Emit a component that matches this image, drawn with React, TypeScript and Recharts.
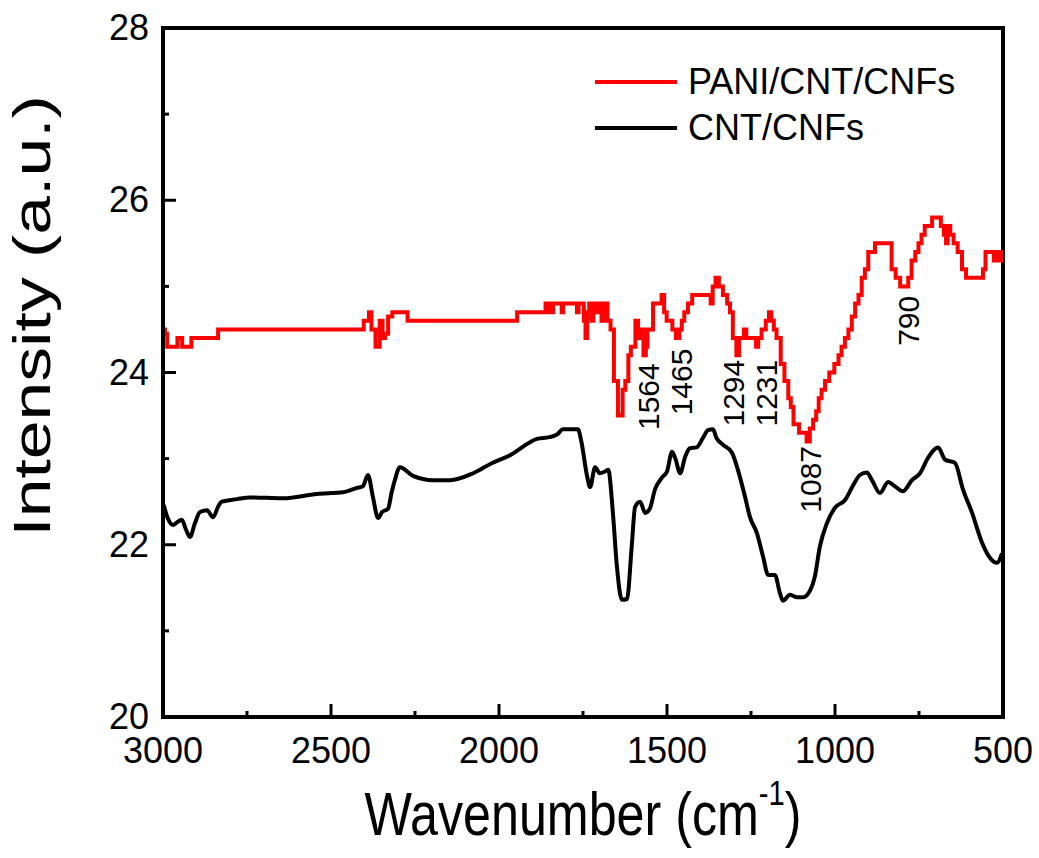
import { LineChart, Line, XAxis, YAxis, ReferenceArea, ReferenceDot, Legend } from "recharts"

const FONT = "'Liberation Sans', Arial, sans-serif"

// PANI/CNT/CNFs spectrum, [wavenumber, intensity]
const paniPoints: [number, number][] = [
  [2998, 24.5], [2990, 24.45], [2985, 24.3], [2958, 24.3], [2956, 24.4], [2944, 24.4], [2942, 24.3],
  [2920, 24.3], [2911, 24.4], [2836, 24.4], [2836, 24.5], [2405, 24.5], [2400, 24.6], [2390, 24.6],
  [2384, 24.7], [2375, 24.5], [2360, 24.3], [2350, 24.6], [2343, 24.4], [2335, 24.45], [2325, 24.65],
  [2310, 24.7], [2274, 24.7], [2270, 24.6], [1946, 24.6], [1946, 24.7], [1863, 24.7], [1860, 24.8],
  [1855, 24.7], [1850, 24.8], [1843, 24.7], [1835, 24.8], [1815, 24.8], [1812, 24.7], [1806, 24.8],
  [1770, 24.8], [1766, 24.7], [1760, 24.8], [1750, 24.8], [1745, 24.6], [1740, 24.4], [1735, 24.7],
  [1728, 24.8], [1722, 24.6], [1716, 24.8], [1708, 24.7], [1700, 24.8], [1690, 24.6], [1682, 24.8],
  [1672, 24.6], [1664, 24.5], [1652, 23.9], [1640, 23.5], [1636, 23.5], [1628, 23.8], [1620, 23.9],
  [1610, 24.2], [1605, 24.3], [1598, 24.3], [1590, 24.6], [1582, 24.4], [1574, 24.5], [1566, 24.2],
  [1560, 24.3], [1556, 24.5], [1545, 24.5], [1538, 24.8], [1520, 24.8], [1512, 24.9], [1505, 24.7],
  [1497, 24.6], [1488, 24.6], [1480, 24.5], [1467, 24.4], [1460, 24.5], [1452, 24.6], [1445, 24.7],
  [1430, 24.8], [1420, 24.9], [1372, 24.9], [1368, 24.8], [1360, 25.0], [1351, 25.1], [1340, 25.0],
  [1327, 24.9], [1315, 24.8], [1310, 24.7], [1298, 24.4], [1289, 24.2], [1282, 24.4], [1274, 24.4],
  [1268, 24.5], [1260, 24.4], [1245, 24.4], [1238, 24.4], [1232, 24.3], [1225, 24.4], [1212, 24.5],
  [1200, 24.6], [1193, 24.7], [1186, 24.6], [1178, 24.5], [1170, 24.4], [1165, 24.4], [1158, 24.1],
  [1143, 23.9], [1135, 23.7], [1128, 23.6], [1119, 23.4], [1095, 23.3], [1089, 23.3], [1080, 23.2],
  [1070, 23.35], [1060, 23.45], [1052, 23.55], [1045, 23.7], [1035, 23.8], [1024, 23.9], [1010, 24.0],
  [994, 24.1], [985, 24.2], [976, 24.3], [965, 24.4], [955, 24.5], [945, 24.65], [935, 24.8],
  [925, 24.9], [916, 25.1], [906, 25.2], [896, 25.4], [886, 25.4], [876, 25.5], [836, 25.5],
  [827, 25.2], [812, 25.1], [800, 25.0], [786, 25.0], [778, 25.1], [766, 25.3], [756, 25.4],
  [747, 25.5], [738, 25.6], [728, 25.7], [717, 25.7], [705, 25.8], [690, 25.8], [680, 25.7],
  [672, 25.6], [667, 25.5], [662, 25.7], [652, 25.6], [642, 25.5], [628, 25.4], [616, 25.2],
  [604, 25.1], [563, 25.1], [556, 25.2], [548, 25.4], [530, 25.4], [525, 25.3], [518, 25.4],
  [510, 25.3], [503, 25.4], [500, 25.3],
]

// CNT/CNFs spectrum
const cntPoints: [number, number][] = [
  [2998, 22.46], [2985, 22.3], [2970, 22.23], [2955, 22.27], [2944, 22.29], [2932, 22.18], [2920, 22.09],
  [2905, 22.25], [2890, 22.38], [2869, 22.4], [2851, 22.32], [2835, 22.45], [2825, 22.5], [2780, 22.53],
  [2741, 22.55], [2643, 22.54], [2542, 22.59], [2464, 22.61], [2423, 22.66], [2405, 22.68], [2390, 22.81],
  [2375, 22.55], [2360, 22.31], [2348, 22.38], [2330, 22.42], [2320, 22.6], [2310, 22.75], [2295, 22.9],
  [2256, 22.8], [2196, 22.75], [2146, 22.75], [2077, 22.83], [2020, 22.95], [1967, 23.04], [1887, 23.23],
  [1850, 23.25], [1827, 23.28], [1810, 23.34], [1765, 23.34], [1755, 23.2], [1738, 22.8], [1729, 22.67],
  [1714, 22.9], [1700, 22.83], [1685, 22.85], [1675, 22.87], [1661, 22.37], [1650, 21.79], [1634, 21.36],
  [1619, 21.37], [1605, 21.98], [1595, 22.44], [1580, 22.5], [1565, 22.37], [1551, 22.42], [1536, 22.64],
  [1515, 22.78], [1500, 22.85], [1485, 23.08], [1475, 23.0], [1461, 22.83], [1446, 23.02], [1432, 23.12],
  [1412, 23.13], [1393, 23.24], [1378, 23.33], [1363, 23.34], [1353, 23.24], [1333, 23.16], [1307, 23.07],
  [1289, 22.87], [1268, 22.56], [1253, 22.32], [1232, 22.13], [1214, 21.86], [1199, 21.65], [1179, 21.65],
  [1164, 21.44], [1155, 21.35], [1134, 21.42], [1113, 21.39], [1095, 21.39], [1074, 21.47], [1060, 21.63],
  [1045, 21.98], [1024, 22.25], [1000, 22.43], [970, 22.52], [946, 22.69], [926, 22.81], [905, 22.84],
  [890, 22.75], [866, 22.6], [842, 22.73], [822, 22.68], [798, 22.62], [771, 22.75], [747, 22.83],
  [723, 23.01], [693, 23.13], [673, 22.99], [643, 22.95], [619, 22.64], [592, 22.37], [563, 22.03],
  [539, 21.85], [518, 21.79], [503, 21.9],
]

const seriesNames = ["PANI/CNT/CNFs", "CNT/CNFs"]

const xTicks = [3000, 2750, 2500, 2250, 2000, 1750, 1500, 1250, 1000, 750, 500]
const yTicks = [20, 21, 22, 23, 24, 25, 26, 27, 28]

// peak labels: text, and where the rotated text sits
const peakLabels = ["1564", "1465", "1294", "1231", "1087", "790"]
const peakX = [1554, 1458, 1301, 1205, 1074, 780]
const peakY = [23.72, 23.89, 23.76, 23.76, 22.76, 24.6]

const paniData = paniPoints.map(([w, v]) => ({ w, v }))
const cntData = cntPoints.map(([w, v]) => ({ w, v }))

const XTick = (props: any) => {
  const { x, y, payload } = props
  const major = payload.value % 500 === 0
  return (
    <g>
      <line x1={x} x2={x} y1={y} y2={y - (major ? 13 : 6)} stroke="#000" strokeWidth={3} />
      {major && (
        <text x={x} y={y + 46} textAnchor="middle" fontSize={36} fontFamily={FONT} fill="#000">
          {payload.value}
        </text>
      )}
    </g>
  )
}

const YTick = (props: any) => {
  const { x, y, payload } = props
  const major = payload.value % 2 === 0
  return (
    <g>
      <line x1={x} x2={x + (major ? 13 : 6)} y1={y} y2={y} stroke="#000" strokeWidth={3} />
      {major && (
        <text x={x - 14} y={y + 12} textAnchor="end" fontSize={36} fontFamily={FONT} fill="#000">
          {payload.value}
        </text>
      )}
    </g>
  )
}

const peakLabel = (text: string) => (props: any) => {
  const vb = props.viewBox || { x: 0, y: 0, width: 0, height: 0 }
  const cx = vb.x + (vb.width || 0) / 2
  const cy = vb.y + (vb.height || 0) / 2
  return (
    <text
      x={cx}
      y={cy}
      transform={`rotate(-90 ${cx} ${cy})`}
      textAnchor="middle"
      dominantBaseline="central"
      fontSize={30}
      fontFamily={FONT}
      fill="#000"
    >
      {text}
    </text>
  )
}

const renderLegend = (props: any) => {
  const items = [...(props.payload || [])].sort(
    (a: any, b: any) => seriesNames.indexOf(a.value) - seriesNames.indexOf(b.value)
  )
  return (
    <div style={{ fontFamily: FONT }}>
      {items.map((it: any) => (
        <div key={it.value} style={{ display: "flex", alignItems: "center", height: 46 }}>
          <div style={{ width: 82, height: 4, background: it.color, marginRight: 11 }} />
          <span style={{ fontSize: 36, color: "#000", lineHeight: "46px" }}>{it.value}</span>
        </div>
      ))}
    </div>
  )
}

export default function App() {
  return (
    <div style={{ position: "absolute", left: 0, top: 0, background: "#fff" }}>
      <LineChart width={1039} height={858} margin={{ top: 28, right: 36, bottom: 0, left: 0 }}>
        <XAxis
          type="number"
          dataKey="w"
          domain={[500, 3000]}
          reversed
          ticks={xTicks}
          interval={0}
          height={141}
          tickLine={false}
          tickSize={0}
          tickMargin={0}
          tick={<XTick />}
          axisLine={{ stroke: "#000", strokeWidth: 4 }}
          allowDataOverflow
          label={(p: any) => {
            const vb = p.viewBox || { x: 163, y: 717, width: 840 }
            const cx = vb.x + vb.width / 2
            const by = vb.y + 118
            return (
              <g transform={`translate(${cx} ${by}) scale(0.81 1)`}>
                <text x={0} y={0} textAnchor="middle" fontSize={62} fontFamily={FONT} fill="#000">
                  Wavenumber (cm<tspan fontSize={36} dy={-30}>-1</tspan><tspan fontSize={62} dy={30}>)</tspan>
                </text>
              </g>
            )
          }}
        />
        <YAxis
          type="number"
          domain={[20, 28]}
          ticks={yTicks}
          interval={0}
          width={163}
          tickLine={false}
          tickSize={0}
          tickMargin={0}
          tick={<YTick />}
          axisLine={{ stroke: "#000", strokeWidth: 4 }}
          allowDataOverflow
          label={(p: any) => {
            const vb = p.viewBox || { x: 0, y: 28 }
            const cx = 32
            const cy = vb.y + 288
            return (
              <g transform={`translate(${cx} ${cy}) rotate(-90) scale(1.34 1)`}>
                <text
                  x={0}
                  y={0}
                  textAnchor="middle"
                  dominantBaseline="central"
                  fontSize={52}
                  fontFamily={FONT}
                  fill="#000"
                >
                  Intensity (a.u.)
                </text>
              </g>
            )
          }}
        />
        <ReferenceArea
          x1={3000}
          x2={500}
          y1={20}
          y2={28}
          fill="none"
          fillOpacity={0}
          stroke="#000"
          strokeWidth={4}
          ifOverflow="visible"
        />
        <Legend
          layout="vertical"
          align="center"
          verticalAlign="middle"
          content={renderLegend}
          wrapperStyle={{ left: 595, top: 59, width: "auto", height: "auto" }}
        />
        <Line
          data={paniData}
          dataKey="v"
          name={seriesNames[0]}
          type="step"
          stroke="#ff0000"
          strokeWidth={4}
          dot={false}
          activeDot={false}
          isAnimationActive={false}
        />
        <Line
          data={cntData}
          dataKey="v"
          name={seriesNames[1]}
          type="monotone"
          stroke="#000000"
          strokeWidth={4}
          dot={false}
          activeDot={false}
          isAnimationActive={false}
        />
        {peakLabels.map((t, i) => (
          <ReferenceDot
            key={t}
            x={peakX[i]}
            y={peakY[i]}
            r={1}
            fill="none"
            stroke="none"
            ifOverflow="visible"
            label={peakLabel(t)}
          />
        ))}
      </LineChart>
    </div>
  )
}
